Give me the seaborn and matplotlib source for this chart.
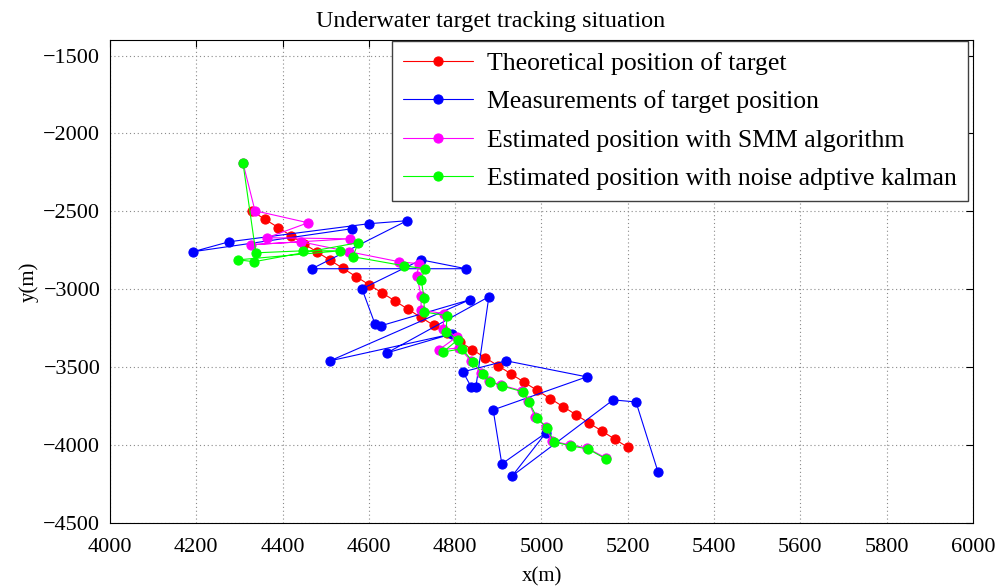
import numpy as np
import pandas as pd
import matplotlib
matplotlib.use("Agg")
import matplotlib.pyplot as plt
import seaborn as sns

# ---- data ----
theory_x = [4330, 4360, 4390, 4420, 4450, 4480, 4510, 4540, 4570, 4600,
            4630, 4660, 4690, 4720, 4750, 4780, 4810, 4840, 4870, 4900,
            4930, 4960, 4990, 5020, 5050, 5080, 5110, 5140, 5170, 5200]
theory_y = [-2500, -2552, -2604, -2657, -2709, -2761, -2813, -2866, -2918, -2970,
            -3022, -3074, -3127, -3179, -3231, -3283, -3336, -3388, -3440, -3492,
            -3544, -3597, -3649, -3701, -3753, -3805, -3858, -3910, -3962, -4014]

meas_x = [4561, 4192, 4276, 4600, 4688, 4468, 4825, 4721, 4584, 4614,
          4628, 4834, 4510, 4793, 4642, 4878, 4848, 4837, 4818, 4918,
          5105, 4888, 4908, 5010, 4932, 5166, 5219, 5270]
meas_y = [-2611, -2759, -2695, -2579, -2560, -2868, -2868, -2811, -2997, -3222,
          -3234, -3067, -3459, -3286, -3408, -3048, -3626, -3626, -3530, -3459,
          -3562, -3774, -4121, -3922, -4198, -3710, -3723, -4172]

smm_x = [4308, 4336, 4459, 4364, 4556, 4327, 4443, 4554, 4670, 4716,
         4711, 4721, 4721, 4774, 4772, 4804, 4762, 4809, 4837, 4860,
         4878, 4906, 4955, 4969, 4985, 5010, 5024, 5066, 5105, 5149]
smm_y = [-2187, -2496, -2573, -2669, -2676, -2714, -2695, -2759, -2823, -2836,
         -2913, -3042, -3132, -3157, -3254, -3305, -3389, -3376, -3459, -3536,
         -3588, -3614, -3652, -3716, -3819, -3883, -3973, -3999, -4018, -4082]

akf_x = [4308, 4338, 4447, 4533, 4297, 4334, 4575, 4563, 4681, 4730,
         4721, 4728, 4728, 4781, 4779, 4806, 4772, 4816, 4841, 4864,
         4881, 4908, 4957, 4971, 4990, 5013, 5029, 5068, 5108, 5149]
akf_y = [-2187, -2766, -2753, -2753, -2811, -2823, -2701, -2791, -2849, -2868,
         -2939, -3055, -3145, -3170, -3273, -3324, -3402, -3382, -3466, -3543,
         -3594, -3620, -3658, -3723, -3826, -3890, -3980, -4005, -4025, -4089]

labels = ["Theoretical position of target",
          "Measurements of target position",
          "Estimated position with SMM algorithm",
          "Estimated position with noise adptive kalman"]
colors = ["#ff0000", "#0000ff", "#ff00ff", "#00ff00"]

x_ticks = list(range(4000, 6001, 200))
y_ticks = list(range(-4500, -1499, 500))

# ---- style ----
sns.set_theme(style="white")
plt.rcParams["font.family"] = ["Liberation Serif", "DejaVu Serif"]
plt.rcParams["mathtext.fontset"] = "dejavuserif"
plt.rcParams["text.color"] = "black"
plt.rcParams["axes.labelcolor"] = "black"

fig = plt.figure(figsize=(10.08, 5.87), dpi=100)
ax = fig.add_axes([110 / 1008, 1 - 523 / 587, 863 / 1008, 483 / 587])

series = [(theory_x, theory_y), (meas_x, meas_y), (smm_x, smm_y), (akf_x, akf_y)]
for (xs, ys), lab, col in zip(series, labels, colors):
    df = pd.DataFrame({"x": xs, "y": ys})
    sns.lineplot(data=df, x="x", y="y", sort=False, estimator=None, ax=ax,
                 color=col, marker="o", markersize=6.6, markeredgecolor=col,
                 markerfacecolor=col, linewidth=0.8, label=lab)

ax.set_xlim(4000, 6000)
ax.set_ylim(-4500, -1400)
ax.set_xticks(x_ticks)
ax.set_yticks(y_ticks)
ax.tick_params(direction="in", top=True, right=True, length=5, width=0.8,
               labelsize=16, colors="black", pad=7)
ax.tick_params(axis="x", pad=11)
for sp in ax.spines.values():
    sp.set_visible(True)
    sp.set_color("black")
    sp.set_linewidth(0.8)
ax.grid(True, linestyle=(0, (1, 2.5)), color="#8a8a8a", linewidth=0.8)
ax.set_axisbelow(True)

ax.set_title("Underwater target tracking situation", fontsize=17.4,
             x=(491 - 110) / 863, pad=9, color="black")
ax.set_xlabel("x(m)", fontsize=15, labelpad=7, color="black")
ax.set_ylabel("y(m)", fontsize=15, labelpad=3, color="black")

leg = ax.legend(loc="upper right", bbox_to_anchor=(0.9942, 0.998),
                borderaxespad=0, fontsize=18.5, frameon=True, fancybox=False,
                framealpha=1, edgecolor="#404040", handlelength=2.75,
                handletextpad=0.55, labelspacing=0.6, borderpad=0.42)
leg.get_frame().set_linewidth(1.0)
for t in leg.get_texts():
    t.set_color("black")

fig.savefig("out.png", dpi=100, facecolor="white")
